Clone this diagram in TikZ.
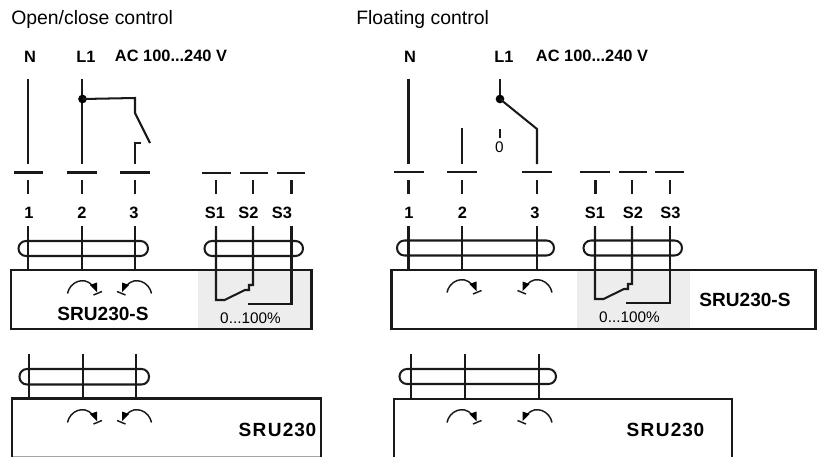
\documentclass[tikz,border=0pt]{standalone}
\usepackage{fontspec}
\setmainfont{Liberation Sans}
\begin{document}
\begin{tikzpicture}[x=0.75pt,y=-0.75pt,
  wire/.style={line width=1.52pt,black!90},
  busbar/.style={line width=1.52pt,black!90},
  tag/.style={font=\bfseries\fontsize{12.3}{14}\selectfont,inner sep=0pt,anchor=center},
  model/.style={font=\bfseries\fontsize{14.3}{16}\selectfont,inner sep=0pt,anchor=center},
  spaced/.style={font=\bfseries\fontsize{14.3}{16}\selectfont,inner sep=0pt,anchor=center},
  title/.style={font=\fontsize{14.55}{16}\selectfont,inner sep=0pt,anchor=base west},
  pct/.style={font=\fontsize{11.5}{14}\selectfont,inner sep=0pt,anchor=center},
  loopbar/.style={line width=1.52pt,black!90,rounded corners=5.6pt},
  greyfill/.style={fill=black!7,draw=none},
  dot/.style={circle,fill=black,inner sep=0pt,minimum size=6.5pt}]
\useasboundingbox (0,0) rectangle (819,457);
\newcommand{\turnarrows}[3]{% xleft xright ytop-of-arc
  \draw[wire,line width=1.1pt] (#1,#3+14) .. controls (#1+2,#3+3) and (#1+16,#3-4) .. (#1+25,#3+6);
  \fill (#1+29.5,#3+12.5) -- (#1+22.5,#3+5.5) -- (#1+29.5,#3+3) -- cycle;
  \draw[wire,line width=1.1pt] (#1+26,#3+15.5) -- (#1+34.5,#3+12);
  \draw[wire,line width=1.1pt] (#2,#3+14) .. controls (#2-2,#3+3) and (#2-16,#3-4) .. (#2-25,#3+6);
  \fill (#2-29.5,#3+12.5) -- (#2-22.5,#3+5.5) -- (#2-29.5,#3+3) -- cycle;
  \draw[wire,line width=1.1pt] (#2-26,#3+15.5) -- (#2-34.5,#3+12);
}
\newcommand{\spdt}[4]{% x1 x2 x3 yoffset: feedback switch
  \draw[wire] (#1,226) -- (#1,300+#4) -- (#1+8.5,300+#4) -- (#1+29,290+#4) -- (#1+33,290+#4) -- (#1+33,285+#4) -- (#2,285+#4) -- (#2,226);
  \draw[wire] (#3,226) -- (#3,304+#4) -- (#3-44,304+#4);
}
\newcommand{\spacedname}{S\hspace{1pt}R\hspace{1pt}U\hspace{1pt}2\hspace{.6pt}3\hspace{.6pt}0}
% ---- left panel
\node[title] (t1) at (11,24) {Open/close control};
\node[tag] (n1) at (30,57) {N};
\node[tag] (l1) at (86,57) {L1};
\node[tag] (ac1) at (171,56) {AC 100...240 V};
\fill[greyfill] (198,271) rectangle (311,328);
\foreach \x/\a/\b in {28/14/43,82/67/97,135/120/150}{
  \draw[busbar] (\a,172.5) -- (\b,172.5);
  \draw[wire] (\x,180) -- (\x,194);
  \draw[wire] (\x,226) -- (\x,269);
}
\foreach \x/\a/\b in {216/202/231,253/240/268,291.5/277/305}{
  \draw[busbar,line width=1.8pt] (\a,173) -- (\b,173);
  \draw[wire] (\x,180) -- (\x,194);
}
\draw[wire] (28,79) -- (28,164);
\draw[wire] (82,79) -- (82,164);
\node[dot] (d1) at (82.5,99) {};
\draw[wire] (d1.center) -- (135,98) -- (135,113) -- (150,143);
\draw[wire] (135,164) -- (135,143) -- (141,143);
\foreach \x/\s in {29/1,82/2,134/3,215/S1,248.5/S2,282/S3}{\node[tag] at (\x,212.5) {\s};}
\draw[loopbar] (18.5,241) rectangle (148,256);
\draw[loopbar] (204.5,241) rectangle (303,256);
\spdt{216}{253}{291.5}{0}
\draw[line width=2.1pt,black!90] (11,270) rectangle (311.5,329);
\turnarrows{67.5}{151.5}{279.5}
\node[model] (m1) at (103,314) {SRU230-S};
\node[pct] (p1) at (250.5,318) {0...100\%};
% lower left
\foreach \x in {29,82.7,135.7}{\draw[wire] (\x,353.5) -- (\x,398);}
\draw[loopbar] (19.5,369) rectangle (149,384.5);
\draw[line width=0.8pt,black!35] (12,456.5) -- (321,456.5);
\draw[wire] (12,457) -- (12,398.5) -- (321,398.5) -- (321,457);
\turnarrows{67.5}{151.5}{408.5}
\node[spaced] (m2) at (277.5,430) {\spacedname};
% ---- right panel
\node[title] (t2) at (356,24) {Floating control};
\node[tag] (n2) at (410,57) {N};
\node[tag] (l2) at (504,57) {L1};
\node[tag] (ac2) at (592,56) {AC 100...240 V};
\fill[greyfill] (577,271) rectangle (690,328);
\foreach \x/\a/\b in {408.5/394/424,462/447/477,537/522/552}{
  \draw[busbar] (\a,172) -- (\b,172);
  \draw[wire] (\x,180) -- (\x,194);
  \draw[wire] (\x,226) -- (\x,269);
}
\foreach \x/\a/\b in {595.5/580/610,632/619/647,670/655/684}{
  \draw[busbar] (\a,172) -- (\b,172);
  \draw[wire] (\x,180) -- (\x,194);
}
\draw[wire] (408.5,79) -- (408.5,164);
\draw[wire] (500,79) -- (500,99);
\node[dot] (d2) at (500,99) {};
\draw[wire] (d2.center) -- (537,129) -- (537,164);
\draw[wire] (462,128) -- (462,164);
\draw[wire] (500,129) -- (500,138);
\node[pct] (z) at (499.5,147) {0};
\foreach \x/\s in {409/1,462.5/2,535/3,595/S1,633/S2,670.5/S3}{\node[tag] at (\x,212.5) {\s};}
\draw[loopbar] (397,240.5) rectangle (554,255.5);
\draw[loopbar] (583.5,240.5) rectangle (682,255.5);
\spdt{595}{632}{670}{-1}
\draw[line width=1.52pt,black!90] (391.5,270) rectangle (815.5,329);
\turnarrows{447}{552}{278.5}
\node[model] (m3) at (745,300) {SRU230-S};
\node[pct] (p3) at (629.5,317) {0...100\%};
% lower right
\foreach \x in {411,464.7,538.7}{\draw[wire] (\x,354) -- (\x,398);}
\draw[loopbar] (399.5,369) rectangle (556,384);
\draw[wire] (393.7,457) -- (393.7,399) -- (731.7,399) -- (731.7,457);
\turnarrows{447}{552}{408.5}
\node[spaced] (m4) at (665.5,430) {\spacedname};
\end{tikzpicture}
\end{document}
